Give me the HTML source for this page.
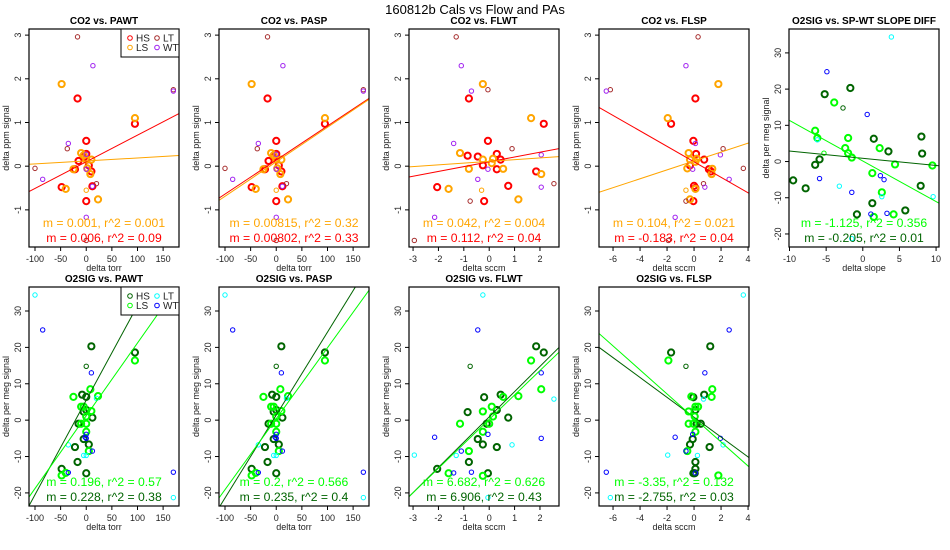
<!DOCTYPE html>
<html><head><meta charset="utf-8"><style>
html,body{margin:0;padding:0;background:#fff;}
svg{display:block;font-family:"Liberation Sans",Arial,sans-serif;}
</style></head><body>
<svg id="chart" width="950" height="550" viewBox="0 0 950 550">
<text x="475" y="14" text-anchor="middle" font-size="13">160812b   Cals vs Flow and PAs</text>
</svg>
<script>
// ---- CO2 data (top row) ----
const co2PaHS=[[-17,1.55],[0,0.58],[0,0.28],[-22,-0.07],[-48,-0.48],[-15,0.12],[5,0.02],[10,-0.12],[12,-0.46],[0,-0.80],[95,0.97],[-5,0.2]];
const co2PaLS=[[-48,1.88],[95,1.1],[-10,0.3],[-40,-0.52],[-25,-0.07],[0,0.15],[10,0.15],[8,-0.18],[23,-0.76],[-5,0.25],[2,-0.05]];
const co2PaLSthin=[[0,-0.55]];
const co2PaLT=[[-17,2.96],[-100,-0.05],[-37,0.4],[170,1.75],[20,-0.4],[0,-1.7]];
const co2PaWT=[[13,2.3],[-35,0.52],[-85,-0.3],[170,1.72],[0,-1.17],[0,0.27],[0,-0.07],[12,-0.46]];
const co2FwHS=[[-0.8,1.55],[2.15,0.97],[-0.05,0.58],[0.3,0.28],[-0.85,0.24],[-0.45,0.22],[0.45,0.15],[-0.25,0.02],[0.3,-0.07],[1.85,-0.12],[-2.05,-0.48],[0.75,-0.45],[-0.2,-0.80]];
const co2FwLS=[[-0.25,1.88],[1.65,1.1],[-1.15,0.3],[-0.25,0.15],[0.15,0.17],[0.1,0.07],[-0.8,-0.06],[0.55,-0.06],[2.05,-0.18],[-1.6,-0.52],[1.15,-0.76]];
const co2FwLSthin=[[-0.3,-0.55]];
const co2FwLT=[[-1.3,2.96],[-0.05,1.75],[0.9,0.4],[2.55,-0.4],[-0.75,-0.8],[-2.95,-1.7]];
const co2FwWT=[[-1.1,2.3],[-0.7,1.72],[-1.4,0.52],[2.05,0.26],[-0.05,-0.07],[-0.45,-0.3],[2.05,-0.48],[-2.15,-1.17]];
const co2FsHS=[[0.1,1.55],[-1.7,0.97],[-0.05,0.58],[0.15,0.28],[0.75,0.15],[-0.3,0.02],[1.1,-0.07],[1.25,-0.12],[0,-0.45],[0.1,-0.5],[-0.05,-0.80]];
const co2FsLS=[[1.8,1.88],[-1.95,1.1],[-0.4,0.3],[0.2,0.17],[-0.3,0.15],[0.1,0.1],[-0.5,-0.05],[1.35,-0.06],[1.3,-0.18],[0.1,-0.52],[-0.3,-0.76]];
const co2FsLSthin=[[-0.6,-0.55]];
const co2FsLT=[[0.3,2.96],[-6.2,1.75],[2.15,0.4],[3.65,-0.05],[0.7,-0.4],[-0.6,-0.8],[-1.9,-1.7]];
const co2FsWT=[[-0.6,2.3],[-6.5,1.72],[0.1,0.52],[1.95,0.26],[-0.1,-0.07],[2.6,-0.3],[0.8,-0.48],[-1.4,-1.17]];
// ---- O2 data ----
const o2SdHS=[[-5.2,18.6],[-1.7,20.3],[1.5,6.3],[3.5,2.8],[8,6.9],[8.1,2.2],[-6.5,-0.9],[-5.9,0.6],[-9.5,-5.2],[-7.8,-7.4],[1.3,-11.5],[-0.8,-14.6],[5.8,-13.5],[7.9,-6.7]];
const o2SdLS=[[-3.9,16.3],[-6.5,8.5],[-6.2,6.5],[-2,6.5],[-2.4,3.7],[2.3,3.7],[-2,2.3],[-1.5,1.1],[1.3,-3.2],[4.4,-0.8],[9.5,-1.1],[2.6,-8.5],[4.2,-14.6],[1.5,-15.3]];
const o2SdHSthin=[[-2.7,14.8]];
const o2SdLSthin=[[-5.3,2.3]];
const o2SdLT=[[3.9,34.4],[-6.2,6],[-3.2,-6.8],[2.6,-9.7],[9.6,-9.7],[-1.5,-21.3]];
const o2SdWT=[[-4.9,24.8],[0.6,13],[2.4,-3.9],[2.9,-5],[-5.9,-4.7],[-1.5,-8.5],[1.1,-14.5],[3.3,-14.3]];
const o2PaHS=[[10,20.3],[95,18.6],[-8,7],[0,6.4],[-5,2.3],[0,2.8],[12,0.7],[-15,-1],[-22,-7.4],[-5,-5.2],[5,-6.7],[-17,-11.5],[-48,-13.4],[0,-14.6]];
const o2PaLS=[[95,16.4],[8,8.5],[-25,6.4],[23,6.6],[-10,3.7],[-5,3.7],[10,2.5],[0,1],[-10,-1],[0,-1],[0,-3.2],[5,-8.5],[-48,-15.2],[-40,-14.5]];
const o2PaHSthin=[[0,14.8]];
const o2PaLT=[[-100,34.4],[20,6],[-35,-6.8],[0,-9.7],[-5,-9.7],[170,-21.3]];
const o2PaWT=[[-85,24.8],[10,13],[0,-3.9],[0,-5],[-2,-4.7],[12,-8.5],[-35,-14.4],[170,-14.3]];
const o2FwHS=[[1.85,20.3],[2.15,18.6],[0.45,7],[-0.2,6.3],[0.3,2.8],[-0.85,2.2],[0.75,0.7],[-0.1,-1],[-0.45,-5.2],[-0.25,-6.7],[0.3,-7.4],[-0.8,-11.5],[-2.05,-13.4],[-0.05,-14.6]];
const o2FwLS=[[1.65,16.4],[2.05,8.5],[0.55,6.4],[1.15,6.6],[0.1,3.7],[-0.25,2.4],[0.15,1],[-1.15,-1],[0,-1],[-0.25,-3.2],[-0.8,-8.5],[-1.6,-14.6],[-0.25,-15.3]];
const o2FwHSthin=[[-0.75,14.8]];
const o2FwLT=[[-0.25,34.4],[2.55,5.8],[0.9,-6.8],[-1.3,-9.7],[-2.95,-9.6],[-0.05,-21.3]];
const o2FwWT=[[-0.45,24.8],[2.05,13],[-0.05,-3.9],[2.05,-5],[-2.15,-4.7],[-1.1,-8.5],[-1.4,-14.5],[-0.7,-14.3]];
const o2FsHS=[[1.2,20.3],[-1.7,18.6],[0.75,7],[-0.05,6.3],[0.1,2.8],[0.5,-1],[0.2,-1],[-0.1,-5.2],[-0.3,-6.7],[1.15,-7.4],[0.1,-11.5],[0.1,-13.4],[-0.05,-14.6],[0.05,-14.6]];
const o2FsLS=[[-1.9,16.4],[1.35,8.5],[1.3,6.4],[-0.2,6.5],[0.3,3.7],[0.1,3.7],[-0.4,2.4],[0.05,1],[-0.4,-1],[-0.05,-1],[0.1,-3.2],[-0.5,-8.5],[1.8,-15.2]];
const o2FsHSthin=[[-0.6,14.8]];
const o2FsLT=[[3.65,34.4],[0.7,5.8],[2.15,-6.8],[0.25,-9.7],[-1.95,-9.6],[-6.2,-21.3]];
const o2FsWT=[[2.6,24.8],[0.8,13],[-0.1,-3.9],[1.95,-5],[-1.4,-4.7],[-0.6,-8.5],[0.1,-14.5],[-6.5,-14.3]];
// ---- fit lines [slope, intercept] ----
const fitPawtCo2=[[0.0061,0.10],[0.00068,0.12]];
const fitPaspCo2=[[0.0078,0.14],[0.0079,0.10]];
const fitFlwtCo2=[[0.11,0.10],[0.04,0.11]];
const fitFlspCo2=[[-0.177,0.10],[0.102,0.12]];
const fitSdO2=[[-0.2,0.9],[-1.12,0.14]];
const fitPawtO2=[[0.26,5.5],[0.2,1.2]];
const fitPaspO2=[[0.228,1.4],[0.195,0.4]];
const fitFlwtO2=[[6.94,0.9],[6.72,0.2]];
const fitFlspO2=[[-2.73,0.8],[-3.3,0.6]];
// ---- tick labels & stats ----
const ticksCo2Y=[-1,0,1,2,3];
const ticksO2Y=[-20,-10,0,10,20,30];
const ticksTorr=[-100,-50,0,50,100,150];
const ticksFlwt=[-3,-2,-1,0,1,2];
const ticksFlsp=[-6,-4,-2,0,2,4];
const ticksSlope=[-10,-5,0,5,10];
const statsPawtCo2=["m = 0.001, r^2 = 0.001","m = 0.006, r^2 = 0.09"];
const statsPaspCo2=["m = 0.00815, r^2 = 0.32","m = 0.00802, r^2 = 0.33"];
const statsFlwtCo2=["m = 0.042, r^2 = 0.004","m = 0.112, r^2 = 0.04"];
const statsFlspCo2=["m = 0.104, r^2 = 0.021","m = -0.183, r^2 = 0.04"];
const statsSdO2=["m = -1.125, r^2 = 0.356","m = -0.205, r^2 = 0.01"];
const statsPawtO2=["m = 0.196, r^2 = 0.57","m = 0.228, r^2 = 0.38"];
const statsPaspO2=["m = 0.2, r^2 = 0.566","m = 0.235, r^2 = 0.4"];
const statsFlwtO2=["m = 6.682, r^2 = 0.626","m = 6.906, r^2 = 0.43"];
const statsFlspO2=["m = -3.35, r^2 = 0.132","m = -2.755, r^2 = 0.03"];

const NS='http://www.w3.org/2000/svg';
const svg=document.getElementById('chart');
function mk(tag,attrs,parent,txt){const e=document.createElementNS(NS,tag);for(const k in attrs)e.setAttribute(k,attrs[k]);if(txt!==undefined)e.textContent=txt;(parent||svg).appendChild(e);return e;}
const C={HS:'#ff0000',LS:'#ffa500',LT:'#a52a2a',WT:'#a020f0',OHS:'#006400',OLS:'#00ff00',OLT:'#00ffff',OWT:'#0000ff'};
const colTorr=[-111.7,181],colFw=[-3.16,2.75],colFs=[-7.04,4.07],colSd=[-10.07,10.4];
const yCo2=[-1.85,3.14],yO2=[-23.6,36.6];
function panel(o){
  const g=mk('g',{},svg);
  
  
  const L=o.x0,R=o.x1,T=o.y0,B=o.y1;
  const sx=v=>L+(v-o.xl[0])/(o.xl[1]-o.xl[0])*(R-L);
  const sy=v=>B-(v-o.yl[0])/(o.yl[1]-o.yl[0])*(B-T);
  const t=mk('text',{x:(L+R)/2,y:T-5,'text-anchor':'middle','font-size':10,'font-weight':'bold'},g,o.title);
  
  
  const xt=mk('g',{},g);
  
  
  mk('line',{x1:sx(o.xt[0]),x2:sx(o.xt[o.xt.length-1]),y1:B,y2:B,stroke:'#000'},xt);
  o.xt.forEach(v=>{mk('line',{x1:sx(v),x2:sx(v),y1:B,y2:B+4,stroke:'#000'},xt);mk('text',{x:sx(v),y:B+15,'text-anchor':'middle','font-size':9,fill:'#222'},xt,v);});
  const yt=mk('g',{},g);
  
  
  o.yt.forEach(v=>{mk('line',{x1:L-4,x2:L,y1:sy(v),y2:sy(v),stroke:'#000'},yt);mk('text',{x:0,y:0,transform:`translate(${L-8},${sy(v)}) rotate(-90)`,'text-anchor':'middle','font-size':9,fill:'#222'},yt,v);});
  const xl=mk('text',{x:(L+R)/2,y:B+24,'text-anchor':'middle','font-size':9,fill:'#222'},g,o.xlab);
  
  
  const yl=mk('text',{x:0,y:0,transform:`translate(${L-20},${(T+B)/2}) rotate(-90)`,'text-anchor':'middle','font-size':9,fill:'#222'},g,o.ylab);
  
  
  const cid='c'+Math.round(L)+'_'+Math.round(T);
  const cp=mk('clipPath',{id:cid},g);mk('rect',{x:L,y:T,width:R-L,height:B-T},cp);
  const pg=mk('g',{'clip-path':`url(#${cid})`},g);
  o.series.forEach(s=>{
    s.pts.forEach(p=>{
      const c=mk('circle',{cx:sx(p[0]),cy:sy(p[1]),r:s.thick?3.1:2.2,fill:'none',stroke:s.col,'stroke-width':s.thick?2:1},pg);
      
      
    });
  });
  o.fits.forEach((f,i)=>{
    const ln=mk('line',{x1:sx(o.xl[0]),y1:sy(f[0]*o.xl[0]+f[1]),x2:sx(o.xl[1]),y2:sy(f[0]*o.xl[1]+f[1]),stroke:o.fitCols[i],'stroke-width':1},pg);
    
    
  });
  mk('rect',{x:L,y:T,width:R-L,height:B-T,fill:'none',stroke:'#000','stroke-width':1.2},g);
  o.stats.forEach((s,i)=>{
    const st=mk('text',{x:(L+R)/2,y:B-(i?5:20),'text-anchor':'middle','font-size':12.2,fill:o.statCols[i]},g,s);
    
    
  });
  if(o.legend){
    const lg=mk('g',{},g);
    
    
    mk('rect',{x:R-58,y:T,width:58,height:28,fill:'#fff',stroke:'#000'},lg);
    o.legend.forEach((e,i)=>{
      const cx=R-49+(i%2)*27,cy=T+9+Math.floor(i/2)*9.5;
      const en=mk('g',{},lg);
      
      
      mk('circle',{cx:cx,cy:cy,r:2.3,fill:'none',stroke:e[1],'stroke-width':1},en);
      mk('text',{x:cx+6,y:cy+3.5,'font-size':10,fill:'#222'},en,e[0]);
    });
  }
}
const top0=29,top1=247,bot0=287,bot1=506;
const cx=[[29,179],[219,369],[409,559],[599,749],[789,939]];
function co2Series(hs,ls,lsThin,lt,wt){return[{pts:hs,col:C.HS,thick:1,key:'hs'},{pts:ls,col:C.LS,thick:1,key:'ls'},{pts:lsThin,col:C.LS,thick:0,key:'ls-small'},{pts:lt,col:C.LT,thick:0,key:'lt'},{pts:wt,col:C.WT,thick:0,key:'wt'}];}
function o2Series(hs,ls,hsThin,lsThin,lt,wt){return[{pts:hs,col:C.OHS,thick:1,key:'hs'},{pts:ls,col:C.OLS,thick:1,key:'ls'},{pts:hsThin,col:C.OHS,thick:0,key:'hs-small'},{pts:lsThin,col:C.OLS,thick:0,key:'ls-small'},{pts:lt,col:C.OLT,thick:0,key:'lt'},{pts:wt,col:C.OWT,thick:0,key:'wt'}];}
const co2Fc=[C.HS,C.LS],co2Sc=[C.LS,C.HS],o2Fc=[C.OHS,C.OLS],o2Sc=[C.OLS,C.OHS];
panel({name:'panel-co2-pawt',x0:cx[0][0],x1:cx[0][1],y0:top0,y1:top1,xl:colTorr,yl:yCo2,xt:ticksTorr,yt:ticksCo2Y,title:'CO2 vs. PAWT',xlab:'delta torr',ylab:'delta ppm signal',series:co2Series(co2PaHS,co2PaLS,co2PaLSthin,co2PaLT,co2PaWT),fits:fitPawtCo2,fitCols:co2Fc,stats:statsPawtCo2,statCols:co2Sc,legend:[['HS',C.HS],['LT',C.LT],['LS',C.LS],['WT',C.WT]]});
panel({name:'panel-co2-pasp',x0:cx[1][0],x1:cx[1][1],y0:top0,y1:top1,xl:colTorr,yl:yCo2,xt:ticksTorr,yt:ticksCo2Y,title:'CO2 vs. PASP',xlab:'delta torr',ylab:'delta ppm signal',series:co2Series(co2PaHS,co2PaLS,co2PaLSthin,co2PaLT,co2PaWT),fits:fitPaspCo2,fitCols:co2Fc,stats:statsPaspCo2,statCols:co2Sc});
panel({name:'panel-co2-flwt',x0:cx[2][0],x1:cx[2][1],y0:top0,y1:top1,xl:colFw,yl:yCo2,xt:ticksFlwt,yt:ticksCo2Y,title:'CO2 vs. FLWT',xlab:'delta sccm',ylab:'delta ppm signal',series:co2Series(co2FwHS,co2FwLS,co2FwLSthin,co2FwLT,co2FwWT),fits:fitFlwtCo2,fitCols:co2Fc,stats:statsFlwtCo2,statCols:co2Sc});
panel({name:'panel-co2-flsp',x0:cx[3][0],x1:cx[3][1],y0:top0,y1:top1,xl:colFs,yl:yCo2,xt:ticksFlsp,yt:ticksCo2Y,title:'CO2 vs. FLSP',xlab:'delta sccm',ylab:'delta ppm signal',series:co2Series(co2FsHS,co2FsLS,co2FsLSthin,co2FsLT,co2FsWT),fits:fitFlspCo2,fitCols:co2Fc,stats:statsFlspCo2,statCols:co2Sc});
panel({name:'panel-o2-slope-diff',x0:cx[4][0],x1:cx[4][1],y0:top0,y1:top1,xl:colSd,yl:yO2,xt:ticksSlope,yt:ticksO2Y,title:'O2SIG vs. SP-WT SLOPE DIFF',xlab:'delta slope',ylab:'delta per meg signal',series:o2Series(o2SdHS,o2SdLS,o2SdHSthin,o2SdLSthin,o2SdLT,o2SdWT),fits:fitSdO2,fitCols:o2Fc,stats:statsSdO2,statCols:o2Sc});
panel({name:'panel-o2-pawt',x0:cx[0][0],x1:cx[0][1],y0:bot0,y1:bot1,xl:colTorr,yl:yO2,xt:ticksTorr,yt:ticksO2Y,title:'O2SIG vs. PAWT',xlab:'delta torr',ylab:'delta per meg signal',series:o2Series(o2PaHS,o2PaLS,o2PaHSthin,[],o2PaLT,o2PaWT),fits:fitPawtO2,fitCols:o2Fc,stats:statsPawtO2,statCols:o2Sc,legend:[['HS',C.OHS],['LT',C.OLT],['LS',C.OLS],['WT',C.OWT]]});
panel({name:'panel-o2-pasp',x0:cx[1][0],x1:cx[1][1],y0:bot0,y1:bot1,xl:colTorr,yl:yO2,xt:ticksTorr,yt:ticksO2Y,title:'O2SIG vs. PASP',xlab:'delta torr',ylab:'delta per meg signal',series:o2Series(o2PaHS,o2PaLS,o2PaHSthin,[],o2PaLT,o2PaWT),fits:fitPaspO2,fitCols:o2Fc,stats:statsPaspO2,statCols:o2Sc});
panel({name:'panel-o2-flwt',x0:cx[2][0],x1:cx[2][1],y0:bot0,y1:bot1,xl:colFw,yl:yO2,xt:ticksFlwt,yt:ticksO2Y,title:'O2SIG vs. FLWT',xlab:'delta sccm',ylab:'delta per meg signal',series:o2Series(o2FwHS,o2FwLS,o2FwHSthin,[],o2FwLT,o2FwWT),fits:fitFlwtO2,fitCols:o2Fc,stats:statsFlwtO2,statCols:o2Sc});
panel({name:'panel-o2-flsp',x0:cx[3][0],x1:cx[3][1],y0:bot0,y1:bot1,xl:colFs,yl:yO2,xt:ticksFlsp,yt:ticksO2Y,title:'O2SIG vs. FLSP',xlab:'delta sccm',ylab:'delta per meg signal',series:o2Series(o2FsHS,o2FsLS,o2FsHSthin,[],o2FsLT,o2FsWT),fits:fitFlspO2,fitCols:o2Fc,stats:statsFlspO2,statCols:o2Sc});
</script>
</body></html>
